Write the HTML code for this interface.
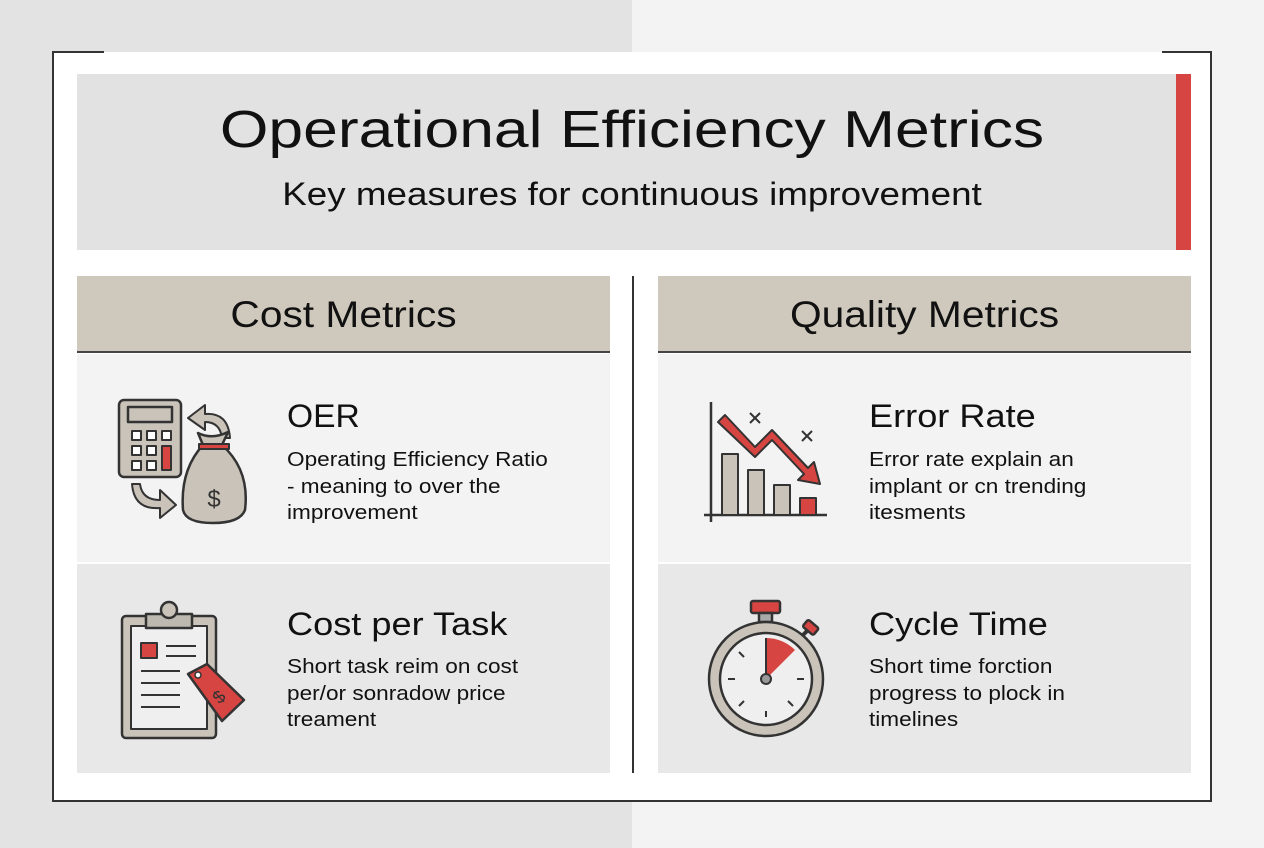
<!DOCTYPE html>
<html><head><style>
body{margin:0;width:1264px;height:848px;position:relative;overflow:hidden;font-family:"Liberation Sans",sans-serif;color:#111;background:#f3f3f3}
.a{position:absolute}
.t{position:absolute;white-space:nowrap}
.c{transform-origin:632px 0}
.l{transform-origin:0 0;transform:scaleX(1.13)}
</style></head><body>
<div class="a" style="left:0;top:0;width:632px;height:848px;background:#e3e3e3"></div>
<div class="a" style="left:52px;top:52px;width:1160px;height:750px;background:#fff;border-left:2px solid #333;border-right:2px solid #333;border-bottom:2px solid #333;box-sizing:border-box"></div>
<div class="a" style="left:52px;top:51px;width:52px;height:2px;background:#333"></div>
<div class="a" style="left:1162px;top:51px;width:50px;height:2px;background:#333"></div>
<div class="a" style="left:77px;top:74px;width:1099px;height:176px;background:#e2e2e2"></div>
<div class="a" style="left:1176px;top:74px;width:15px;height:176px;background:#d64541"></div>
<div class="t c" style="left:0;width:1264px;top:100px;text-align:center;font-size:52px;transform:scaleX(1.2)">Operational Efficiency Metrics</div>
<div class="t c" style="left:0;width:1264px;top:176px;text-align:center;font-size:32px;transform:scaleX(1.15)">Key measures for continuous improvement</div>
<div class="a" style="left:632px;top:276px;width:2px;height:497px;background:#333"></div>
<div class="a" style="left:77px;top:276px;width:533px;height:75px;background:#cfc8bd;border-bottom:2px solid #444"></div>
<div class="t" style="left:77px;width:533px;top:294px;text-align:center;font-size:37px;transform:scaleX(1.1)">Cost Metrics</div>
<div class="a" style="left:77px;top:354px;width:533px;height:208px;background:#f3f3f3"></div>
<div class="a" style="left:77px;top:564px;width:533px;height:209px;background:#e8e8e8"></div>
<div class="a" style="left:658px;top:276px;width:533px;height:75px;background:#cfc8bd;border-bottom:2px solid #444"></div>
<div class="t" style="left:658px;width:533px;top:294px;text-align:center;font-size:37px;transform:scaleX(1.1)">Quality Metrics</div>
<div class="a" style="left:658px;top:354px;width:533px;height:208px;background:#f3f3f3"></div>
<div class="a" style="left:658px;top:564px;width:533px;height:209px;background:#e8e8e8"></div>

<div class="t l" style="left:287px;top:398px;font-size:32px;transform:scaleX(1.05)">OER</div>
<div class="t l" style="left:287px;top:447px;font-size:20px;line-height:26.5px">Operating Efficiency Ratio<br>- meaning to over the<br>improvement</div>
<div class="t l" style="left:287px;top:606px;font-size:32px">Cost per Task</div>
<div class="t l" style="left:287px;top:654px;font-size:20px;line-height:26.5px">Short task reim on cost<br>per/or sonradow price<br>treament</div>
<div class="t l" style="left:869px;top:398px;font-size:32px">Error Rate</div>
<div class="t l" style="left:869px;top:447px;font-size:20px;line-height:26.5px">Error rate explain an<br>implant or cn trending<br>itesments</div>
<div class="t l" style="left:869px;top:606px;font-size:32px">Cycle Time</div>
<div class="t l" style="left:869px;top:654px;font-size:20px;line-height:26.5px">Short time forction<br>progress to plock in<br>timelines</div>

<svg class="a" style="left:0;top:0" width="1264" height="848" stroke="#333" stroke-width="2.5" stroke-linejoin="round">
<rect x="119" y="400" width="62" height="77" rx="5" fill="#c9c3ba"/>
<rect x="128" y="407" width="44" height="15" fill="#c9c3ba"/>
<g fill="#fff" stroke-width="2"><rect x="132" y="431" width="9" height="9"/><rect x="147" y="431" width="9" height="9"/><rect x="162" y="431" width="9" height="9"/><rect x="132" y="446" width="9" height="9"/><rect x="147" y="446" width="9" height="9"/><rect x="132" y="461" width="9" height="9"/><rect x="147" y="461" width="9" height="9"/></g>
<rect x="162" y="446" width="9" height="24" fill="#d64541" stroke-width="2"/>
<path d="M230 438 Q228 412 205 414 L205 405 L188 418 L205 430 L205 422 Q220 422 222 438 Z" fill="#c9c3ba" stroke-width="2"/>
<path d="M132 484 Q134 510 160 508 L160 518 L176 505 L160 490 L160 500 Q142 500 140 484 Z" fill="#c9c3ba" stroke-width="2"/>
<path d="M203 445 L198 433 Q212 440 228 432 L222 445 Q250 470 245 510 Q240 523 213 523 Q186 523 183 510 Q180 470 203 445 Z" fill="#c9c3ba"/>
<rect x="199" y="444" width="30" height="5" fill="#d64541" stroke-width="2"/>
<text x="214" y="507" font-size="24" text-anchor="middle" fill="#333" stroke="none" font-family="Liberation Sans">$</text>
<rect x="122" y="616" width="94" height="122" rx="4" fill="#c9c3ba"/>
<rect x="131" y="626" width="76" height="103" fill="#efefef" stroke-width="2"/>
<rect x="146" y="614" width="46" height="14" fill="#bdb8b0"/>
<circle cx="169" cy="610" r="8" fill="#c9c3ba"/>
<rect x="141" y="643" width="16" height="15" fill="#d64541" stroke-width="2"/>
<g stroke-width="2"><line x1="166" y1="646" x2="196" y2="646"/><line x1="166" y1="656" x2="196" y2="656"/><line x1="141" y1="671" x2="180" y2="671"/><line x1="141" y1="683" x2="180" y2="683"/><line x1="141" y1="695" x2="180" y2="695"/><line x1="141" y1="707" x2="180" y2="707"/></g>
<path d="M188 674 L207 664 L244 700 L222 721 Z" fill="#d64541"/>
<circle cx="198" cy="675" r="3" fill="#fff" stroke-width="1.5"/>
<text x="219" y="703" font-size="18" text-anchor="middle" fill="#333" stroke="none" transform="rotate(-45 219 697)">$</text>
<line x1="711" y1="402" x2="711" y2="522"/>
<line x1="704" y1="515" x2="827" y2="515"/>
<g fill="#c9c3ba" stroke-width="2"><rect x="722" y="454" width="16" height="61"/><rect x="748" y="470" width="16" height="45"/><rect x="774" y="485" width="16" height="30"/></g>
<rect x="800" y="498" width="16" height="17" fill="#d64541" stroke-width="2"/>
<path d="M718 422 L725 415 L755 447 L772 430 L808 468 L814 462 L820 484 L798 480 L804 474 L772 440 L755 457 Z" fill="#d64541" stroke-width="2"/>
<g stroke-width="2"><path d="M750 413 L760 423 M760 413 L750 423"/><path d="M802 431 L812 441 M812 431 L802 441"/></g>
<rect x="751" y="601" width="29" height="12" rx="2" fill="#d64541"/>
<rect x="759" y="613" width="13" height="9" fill="#aaa"/>
<line x1="800" y1="638" x2="808" y2="630" stroke-width="4"/>
<rect x="804" y="623" width="14" height="9" rx="2" fill="#d64541" transform="rotate(40 811 627)"/>
<circle cx="766" cy="679" r="57" fill="#c9c3ba"/>
<circle cx="766" cy="679" r="46" fill="#efefef"/>
<path d="M766 679 L766 638 A41 41 0 0 1 795 650 Z" fill="#d64541" stroke="none"/>
<line x1="766" y1="679" x2="766" y2="638" stroke-width="2"/>
<g stroke-width="2"><line x1="728" y1="679" x2="735" y2="679"/><line x1="797" y1="679" x2="804" y2="679"/><line x1="766" y1="711" x2="766" y2="717"/><line x1="739" y1="652" x2="744" y2="657"/><line x1="739" y1="706" x2="744" y2="701"/><line x1="793" y1="706" x2="788" y2="701"/></g>
<circle cx="766" cy="679" r="5" fill="#999" stroke-width="2"/>
</svg>
</body></html>
